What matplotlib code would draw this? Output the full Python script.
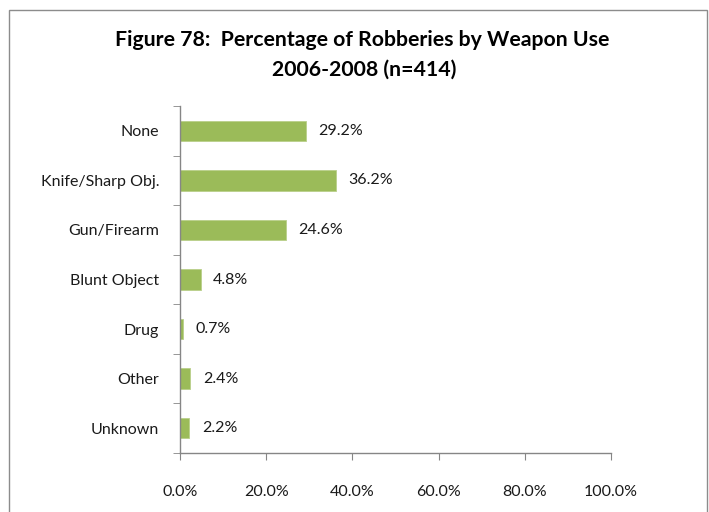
import matplotlib
matplotlib.use("Agg")
import matplotlib.pyplot as plt
from matplotlib.patches import Rectangle

categories = ["None", "Knife/Sharp Obj.", "Gun/Firearm", "Blunt Object", "Drug", "Other", "Unknown"]
values = [29.2, 36.2, 24.6, 4.8, 0.7, 2.4, 2.2]
x_ticks = [0, 20, 40, 60, 80, 100]

plt.rcParams["font.family"] = ["Lato", "DejaVu Sans"]

fig = plt.figure(figsize=(7.09, 5.12), dpi=100)
W, H = 709, 512
ax = fig.add_axes([180 / W, 1 - 453 / H, (611 - 180) / W, (453 - 106) / H])

n = len(categories)
ypos = list(range(n))
ax.barh(ypos, values, height=0.41, color="#9BBB59", edgecolor="#B9CF8A", linewidth=0.6)
ax.set_ylim(n - 0.5, -0.5)
ax.set_xlim(0, 100)

for y, v in zip(ypos, values):
    ax.text(v + 2.9, y, f"{v:.1f}%", va="center", ha="left", fontsize=11.5, color="#1a1a1a")

ax.set_xticks(x_ticks)
ax.set_xticklabels([f"{t:.1f}%" for t in x_ticks], fontsize=11.5, color="#1a1a1a")
ax.set_yticks(ypos)
ax.set_yticklabels(categories, fontsize=11.5, color="#1a1a1a")
ax.tick_params(axis="y", length=0, pad=15)
ax.tick_params(axis="x", length=5, color="#868686", pad=18, direction="out")

# minor ticks on category boundaries for the y axis
ax.set_yticks([i - 0.5 for i in range(n + 1)], minor=True)
ax.tick_params(axis="y", which="minor", length=5, color="#868686", direction="out")

for s in ["top", "right"]:
    ax.spines[s].set_visible(False)
for s in ["left", "bottom"]:
    ax.spines[s].set_color("#868686")
    ax.spines[s].set_linewidth(1.0)

fig.text(362 / W, 1 - 40 / H, "Figure 78:  Percentage of Robberies by Weapon Use",
         ha="center", va="center", fontsize=15.3, fontweight="bold", color="#000000")
fig.text(364 / W, 1 - 70 / H, "2006-2008 (n=414)",
         ha="center", va="center", fontsize=15.3, fontweight="bold", color="#000000")

# chart area frame
fig.patches.append(Rectangle((9 / W, -0.05), (707 - 9) / W, 1 - 9.5 / H + 0.05,
                             transform=fig.transFigure, fill=False,
                             edgecolor="#8c8c8c", linewidth=1.0))

fig.savefig("out.png", dpi=100)
